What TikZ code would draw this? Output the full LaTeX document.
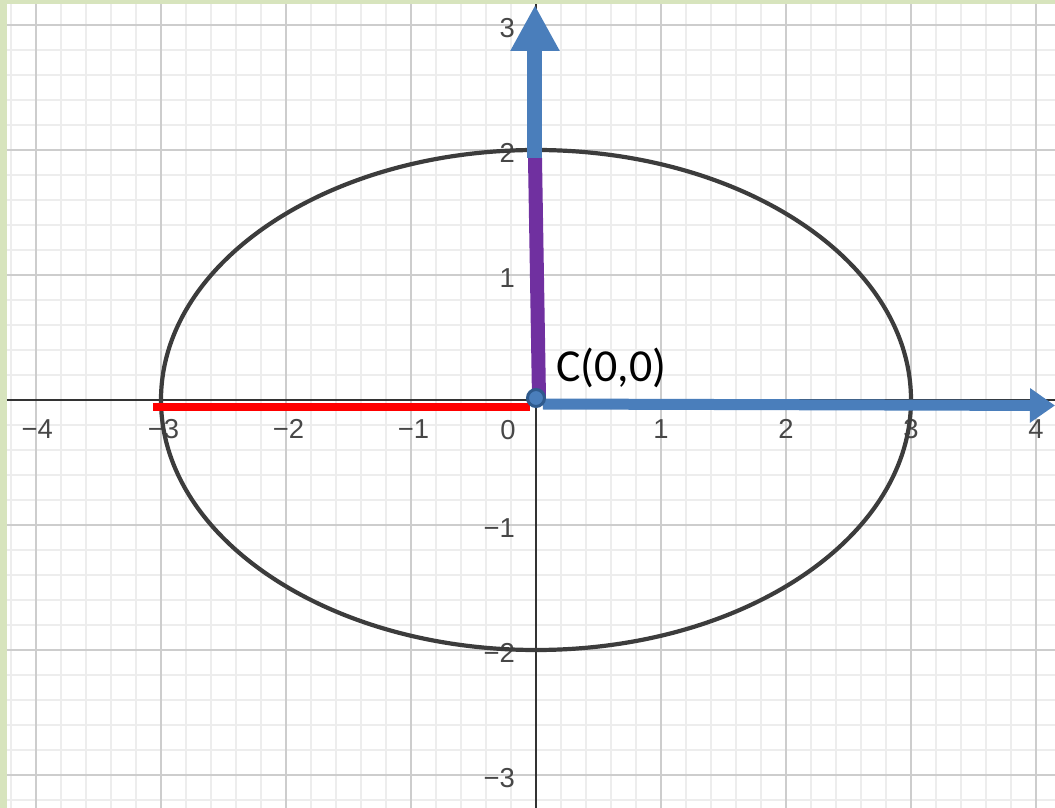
\documentclass[tikz,border=0pt]{standalone}
\usepackage{fontspec}
\setmainfont{Liberation Sans}
\newfontfamily\calfont{Carlito}
\usetikzlibrary{arrows.meta}
\definecolor{bordergreen}{HTML}{D7E4BD}
\definecolor{minorgrid}{HTML}{EDEDED}
\definecolor{majorgrid}{HTML}{CDCDCD}
\definecolor{axisgray}{HTML}{333333}
\definecolor{curvegray}{HTML}{3C3C3C}
\definecolor{arrowblue}{HTML}{4A7EBB}
\definecolor{ringblue}{HTML}{2F5A8C}
\definecolor{axispurple}{HTML}{7030A0}
\begin{document}
\begin{tikzpicture}[x=125bp,y=125bp,
  ticklabel/.style={text=black!72, font=\fontsize{27.5}{30}\selectfont, inner sep=0pt},
  ylabel/.style={ticklabel, anchor=east},
  axisline/.style={axisgray, line width=2bp},
  curve/.style={curvegray, line width=4.2bp},
  redseg/.style={red, line width=7.5bp},
  purpleseg/.style={axispurple, line width=14bp},
  hblue/.style={arrowblue, line width=11bp, -{Triangle[length=25bp,width=33bp]}},
  vblue/.style={arrowblue, line width=15bp, -{Triangle[length=46bp,width=46bp]}},
  centerdot/.style={circle, fill=arrowblue, draw=ringblue, line width=3bp, minimum size=17bp, inner sep=0pt}]
\useasboundingbox (-4.288,-3.264) rectangle (4.152,3.2);
\fill[white] (-4.288,-3.264) rectangle (4.152,3.2);
% grid
\draw[minorgrid, line width=1.5bp, step=0.2] (-4.288,-3.264) grid (4.152,3.2);
\draw[majorgrid, line width=2bp, step=1] (-4.288,-3.264) grid (4.152,3.2);
% border
\fill[bordergreen] (-4.288,-3.264) rectangle (-4.232,3.2);
\fill[bordergreen] (-4.288,3.168) rectangle (4.152,3.2);
% axes
\coordinate (xaxL) at (-4.232,0);
\coordinate (xaxR) at (4.152,0);
\coordinate (yaxB) at (0,-3.264);
\coordinate (yaxT) at (0,3.168);
\draw[axisline] (xaxL) -- (xaxR);
\draw[axisline] (yaxB) -- (yaxT);
% x tick labels
\node[ticklabel] (xm4) at (-3.99,-0.232) {−4};
\node[ticklabel] (xm3) at (-2.98,-0.232) {−3};
\node[ticklabel] (xm2) at (-1.98,-0.232) {−2};
\node[ticklabel] (xm1) at (-0.98,-0.232) {−1};
\node[ticklabel] (x0) at (-0.224,-0.24) {0};
\node[ticklabel] (x1) at (1,-0.232) {1};
\node[ticklabel] (x2) at (2,-0.232) {2};
\node[ticklabel] (x3) at (3,-0.232) {3};
\node[ticklabel] (x4) at (4,-0.232) {4};
% y tick labels
\node[ylabel] (y3) at (-0.168,2.976) {3};
\node[ylabel] (y2) at (-0.168,1.976) {2};
\node[ylabel] (y1) at (-0.168,0.976) {1};
\node[ylabel] (ym1) at (-0.168,-1.024) {−1};
\node[ylabel] (ym2) at (-0.168,-2.024) {−2};
\node[ylabel] (ym3) at (-0.168,-3.024) {−3};
% ellipse
\draw[curve] (0,0) ellipse [x radius=3, y radius=2];
% segments and arrows
\coordinate (redL) at (-3.064,-0.056);
\coordinate (redR) at (-0.048,-0.056);
\draw[redseg] (redL) -- (redR);
\coordinate (purB) at (0.024,0.016);
\coordinate (purT) at (-0.008,1.936);
\draw[purpleseg] (purB) -- (purT);
\coordinate (vtip) at (-0.008,3.16);
\draw[vblue] (purT) -- (vtip);
\coordinate (hstart) at (0.056,-0.032);
\coordinate (htip) at (4.152,-0.044);
\draw[hblue] (hstart) -- (htip);
% centre point and label
\node[centerdot] (C) at (0,0.016) {};
\node[anchor=base west, inner sep=0pt, font=\calfont\fontsize{46}{50}\selectfont] (Clabel) at (0.16,0.144) {C(0,0)};
\end{tikzpicture}
\end{document}
